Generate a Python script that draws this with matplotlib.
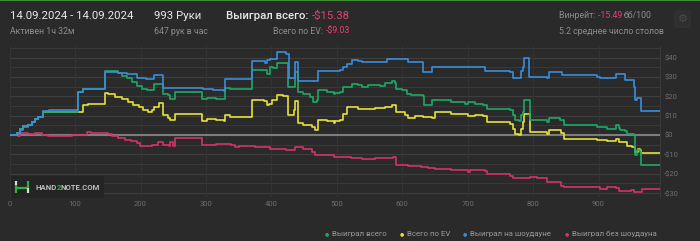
import numpy as np
import matplotlib.pyplot as plt
from matplotlib.patches import FancyBboxPatch, Rectangle
from matplotlib.lines import Line2D

plt.rcParams['font.family'] = ['Roboto', 'DejaVu Sans']

# data (hands, $)
won_x = [0, 10.7, 15.8, 20.9, 28.5, 33.6, 38.7, 43.8, 51.5, 104, 112.6, 145.8, 166, 171, 179, 186.5, 194,
         202, 209.5, 220, 235, 242.6, 245, 252.6, 294.5, 301, 316, 329, 337, 371, 393, 398, 403, 408, 426,
         436, 441, 449, 459, 464, 469, 472, 484.6, 495, 497, 504.6, 509.7, 522.5, 532.7, 537.8, 548, 558,
         566, 573.5, 583.7, 588.8, 591, 599, 606.6, 614, 622, 632, 633.6, 645, 675, 696, 701, 711, 724, 729,
         750, 765, 769, 773, 778, 781.6, 784.7, 786.7, 795, 821.4, 824, 841.8, 847, 898, 913, 926, 931,
         933.6, 941, 944, 954, 955.5, 959, 963, 965.7, 995]
won_y = [0, 1.2, 3.3, 4.5, 5.4, 6.7, 8.1, 9.3, 11.9, 22.3, 24, 33.2, 32, 30.4, 29.5, 27.6, 25.1,
         24, 23.5, 26.6, 21.4, 20.5, 18.8, 22.3, 18.5, 19.2, 18.8, 24.4, 24, 33.5, 31.3, 35, 34.4, 37, 24.9,
         32.6, 22.3, 21.4, 19.7, 17.1, 18, 23.1, 22.3, 21.4, 21.9, 22.3, 24.9, 26.6, 26.1, 24.9, 25.7, 26.1,
         25.4, 27.1, 27.8, 27.1, 24, 23.5, 21.4, 20.6, 20.9, 20.2, 15.4, 18, 17.1, 16.2, 17.1, 16.2, 15.7, 13.6,
         13.6, 12.8, 10.2, 7.6, 7.1, 10.2, 12, 18, 7.6, 6.7, 8.8, 7.6, 5, 4.3, 3.3, 5, 3.6,
         2.4, 1.9, 0.7, -0.2, -10.5, -7.9, -8.5, -15.4, -15.4]

ev_x = [0, 10.7, 15.8, 20.9, 28.5, 33.6, 38.7, 43.8, 51.5, 112.6, 120, 145.8, 151, 161, 171, 181, 189,
        197, 204.5, 212, 217, 220, 228, 235, 242.6, 245, 252.6, 294.5, 301, 316, 327, 329, 337, 371, 388,
        393, 396, 401, 408, 418, 426, 434, 436, 441, 449, 462, 467, 472, 485, 495, 497, 505, 509.7, 515,
        533, 538, 558, 573.5, 583.7, 589, 591, 604, 609, 619, 632, 645, 650, 675, 696, 701, 711, 724, 729,
        750, 765, 769, 773, 778, 781.6, 784.7, 786.7, 795, 821, 824, 842, 847, 898, 913, 926, 931, 941,
        944, 951, 956, 960, 964, 965.7, 995]
ev_y = [0, 1.2, 3.3, 4.5, 5.4, 6.7, 8.1, 9.3, 11.9, 15.4, 16.2, 21.8, 21.4, 19.7, 18.8, 17.1, 15.4,
        14.5, 13.1, 11.9, 12.8, 14.5, 16.8, 10.2, 8.8, 7.6, 11, 7.1, 8.1, 7.6, 7.1, 10.2, 9.3, 18, 17.4,
        15.4, 16.2, 18, 20.9, 20.2, 10.2, 12.8, 17.4, 6.4, 5.4, 4.2, 2.4, 7.6, 7.1, 6.4, 7.1, 7.6, 11, 14.5,
        13.3, 13.6, 14, 14.5, 15.7, 15.4, 11.9, 10.2, 8.8, 9.8, 9.3, 8.8, 11.9, 11, 11, 9.8, 10.5, 9.8, 6.7,
        6.7, 5.9, 3.3, 0.7, 0.2, 3.3, 6.7, 11, 1.6, 0.7, 2.4, 1.2, -2.2, -2.8, -3.3, -1.9, -3.6, -3.6,
        -5.4, -6.2, -8.8, -7.4, -7.9, -9.2, -9.3]

sd_x = [0, 10.7, 15.8, 20.9, 28.5, 33.6, 38.7, 43.8, 51.5, 60, 104, 112.6, 145.8, 166, 180, 194, 209,
        220, 235, 245, 296, 311, 327, 329, 370, 390, 393, 398, 408, 418, 423, 427, 436, 441, 472, 497,
        504.6, 509.7, 515, 522.5, 533, 538, 576, 609, 614, 632, 646, 727, 765, 770, 781.6, 784.7, 786.7,
        794, 821, 824, 844, 898, 903, 926, 941, 954, 955.5, 959, 965.7, 995]
sd_y = [0, 1.2, 2.5, 4.0, 5.0, 6.7, 8.1, 9.3, 12.4, 12.8, 22.3, 24, 32.6, 32.1, 31.3, 29.7, 28.8,
        31.1, 24.3, 24.4, 23.9, 23.3, 22.6, 28.8, 38.2, 37, 38.9, 39.4, 42.7, 43, 42, 29.7, 37.8, 28, 33, 33,
        33.5, 35.2, 36.9, 38.7, 38.2, 37.5, 39.2, 37.5, 37.8, 32.6, 35.2, 33, 32.6, 29.7, 33, 35.2, 39.9,
        30, 29.7, 32.6, 30.9, 30.2, 29.7, 31.3, 28.3, 24.9, 18, 19.2, 12.3, 12.3]

nsd_x = [0, 10, 13, 15, 18, 28.5, 38.7, 49, 59, 69, 79, 95, 110, 118, 125, 146, 151, 156, 166, 176,
         186, 194, 199, 207, 217, 227, 235, 243, 245, 250, 252.6, 294.5, 316, 339, 344, 350, 375, 398, 408,
         423, 436, 449, 462, 467, 480, 495, 505, 522, 538, 548, 558, 573.5, 586, 591, 609, 629, 640, 650,
         675, 696, 701, 703, 727, 729, 750, 765, 770, 796, 806, 821, 842, 847, 898, 903, 913, 926, 931,
         949, 954, 964, 967, 995]
nsd_y = [0, 0, -0.5, 0.6, 1.2, 0.7, 1.0, 0.2, -0.5, -0.7, -0.5, -0.2, 0.2, 1.4, 1.0, 1.2, 0.7, -0.5,
         -1.5, -2.4, -3.3, -4.1, -5.4, -5.7, -5.0, -3.8, -5.0, -5.4, -3.6, -5.4, -1.6, -5.0, -4.5, -5.0,
         -6.2, -5.7, -6.2, -7.4, -7.1, -7.9, -6.2, -7.1, -8.8, -10.5, -10.2, -11.4, -11.2, -11.9, -12.6,
         -12.3, -11.7, -11.9, -11.4, -15.4, -16.1, -16.6, -17.1, -17.4, -17.8, -18.3, -19.2, -17.8, -18.8,
         -20, -20, -21.4, -22.3, -21.9, -22.3, -24.4, -26.1, -26.9, -26.9, -27.8, -26.9, -27.5, -28.7,
         -28.2, -29.5, -29.5, -28, -28]

labels = ['Выиграл всего', 'Всего по EV', 'Выиграл на шоудауне', 'Выиграл без шоудауна']
colors = ['#1fa865', '#e6e13c', '#3a8ddb', '#d1336d']
xticks = [0, 100, 200, 300, 400, 500, 600, 700, 800, 900]
yticks = [-30, -20, -10, 0, 10, 20, 30, 40]

bg = '#2a2a2a'
W, H = 700, 241
fig = plt.figure(figsize=(7, 2.41), dpi=100, facecolor=bg)
fig.add_artist(Rectangle((0, 0.994), 1, 0.006, transform=fig.transFigure, color='#3f8f3a', lw=0))


def px(x, y):
    return x / W, 1 - y / H


ax = fig.add_axes([9.7/W, 1 - 197/H, (660 - 9.7)/W, 151/H])
ax.set_facecolor(bg)
for yy in range(-30, 50, 5):
    ax.axhline(yy, color='#383838' if yy % 10 else '#3e3e3e', lw=0.8, zorder=0)
for xx in xticks:
    ax.axvline(xx, color='#333333', lw=0.8, zorder=0)
ax.axhline(0, color='#7d7d7d', lw=1.5, zorder=1)

series = [(won_x, won_y), (ev_x, ev_y), (sd_x, sd_y), (nsd_x, nsd_y)]
for i in [3, 1, 0, 2]:
    x, y = series[i]
    ax.plot(x, y, color=colors[i], lw=1.2, drawstyle='steps-post', zorder=3)

ax.set_xlim(0, 994)
ax.set_ylim(-32, 46)
ax.set_xticks(xticks)
ax.set_yticks(yticks)
ax.set_yticklabels(['$%d' % v if v >= 0 else '-$%d' % -v for v in yticks])
ax.yaxis.tick_right()
ax.tick_params(colors='#6e6e6e', labelsize=5.5, length=0, pad=3)
for s in ['top', 'left', 'bottom']:
    ax.spines[s].set_visible(False)
ax.spines['right'].set_color('#3a3a3a')

# watermark logo (inside the axes so it sits above the grid)
ax.add_patch(Rectangle(px(11, 198), 93/W, 22/H, transform=fig.transFigure, color='#242424', lw=0,
                       zorder=4, clip_on=False))
lg = '#2fae45'
for (x0, y0, x1, y1, c) in [(16, 181, 16, 185, '#d8d8d8'), (16, 185, 16, 193, lg), (16, 188, 28, 188, lg),
                            (28, 181, 28, 188, lg), (28, 188, 28, 193, '#d8d8d8')]:
    a, b = px(x0, y0)
    c2, d = px(x1, y1)
    ax.add_line(Line2D([a, c2], [b, d], transform=fig.transFigure, color=c, lw=1.6, zorder=5,
                       solid_capstyle='butt', clip_on=False))
t = ax.text(*px(35, 187.5), 'HAND', transform=fig.transFigure, color='#bdbdbd', fontsize=5.6,
            fontweight='bold', va='center', zorder=6)
t = ax.annotate('2', xy=(1, 0), xycoords=t, va='bottom', color=lg, fontsize=5.6, fontweight='bold',
                annotation_clip=False, zorder=6)
ax.annotate('NOTE.COM', xy=(1, 0), xycoords=t, va='bottom', color='#bdbdbd', fontsize=5.6,
            fontweight='bold', annotation_clip=False, zorder=6)

# header
white = '#e8e8e8'
grey = '#8d8d8d'
pink = '#e0436f'
big, small = 8.2, 6.3
fig.text(*px(10, 16), '14.09.2024 - 14.09.2024', color=white, fontsize=big, va='center')
fig.text(*px(10, 31), 'Активен 1ч 32м', color=grey, fontsize=small, va='center')
fig.text(*px(154, 16), '993 Руки', color=white, fontsize=big, va='center')
fig.text(*px(154, 31), '647 рук в час', color=grey, fontsize=small, va='center')
fig.text(*px(350, 16), '-$15.38', color=pink, fontsize=big, va='center', ha='right')
fig.text(*px(308, 16), 'Выиграл всего:', color=white, fontsize=big, va='center', ha='right', fontweight='medium')
fig.text(*px(350, 31), '-$9.03', color=pink, fontsize=small, va='center', ha='right')
fig.text(*px(323, 31), 'Всего по EV:', color=grey, fontsize=small, va='center', ha='right')
t = fig.text(*px(559, 16), 'Винрейт: ', color=grey, fontsize=small, va='center')
t = ax.annotate('-15.49 ', xy=(1, 0), xycoords=t, va='bottom', color=pink, fontsize=small, annotation_clip=False)
ax.annotate('бб/100', xy=(1, 0), xycoords=t, va='bottom', color=grey, fontsize=small, annotation_clip=False)
fig.text(*px(559, 31), '5.2 среднее число столов', color=grey, fontsize=small, va='center')
fig.add_artist(FancyBboxPatch(px(675, 27), 15/W, 16/H, boxstyle='round,pad=0,rounding_size=0.005',
                              transform=fig.transFigure, fc='#2e2e2e', ec='#363636', lw=0.6))
fig.text(*px(682.5, 19), '⚙', color='#4a4a4a', fontsize=8, va='center', ha='center', family='DejaVu Sans')

# legend
leg_x = [327, 402, 465, 567]
for lx, lab, c in zip(leg_x, labels, colors):
    fig.text(*px(lx, 234), '●', color=c, fontsize=3.5, va='center', ha='center', family='DejaVu Sans')
    fig.text(*px(lx + 5, 234), lab, color='#9a9a9a', fontsize=5.7, va='center')

fig.savefig('out.png', dpi=100, facecolor=bg)
